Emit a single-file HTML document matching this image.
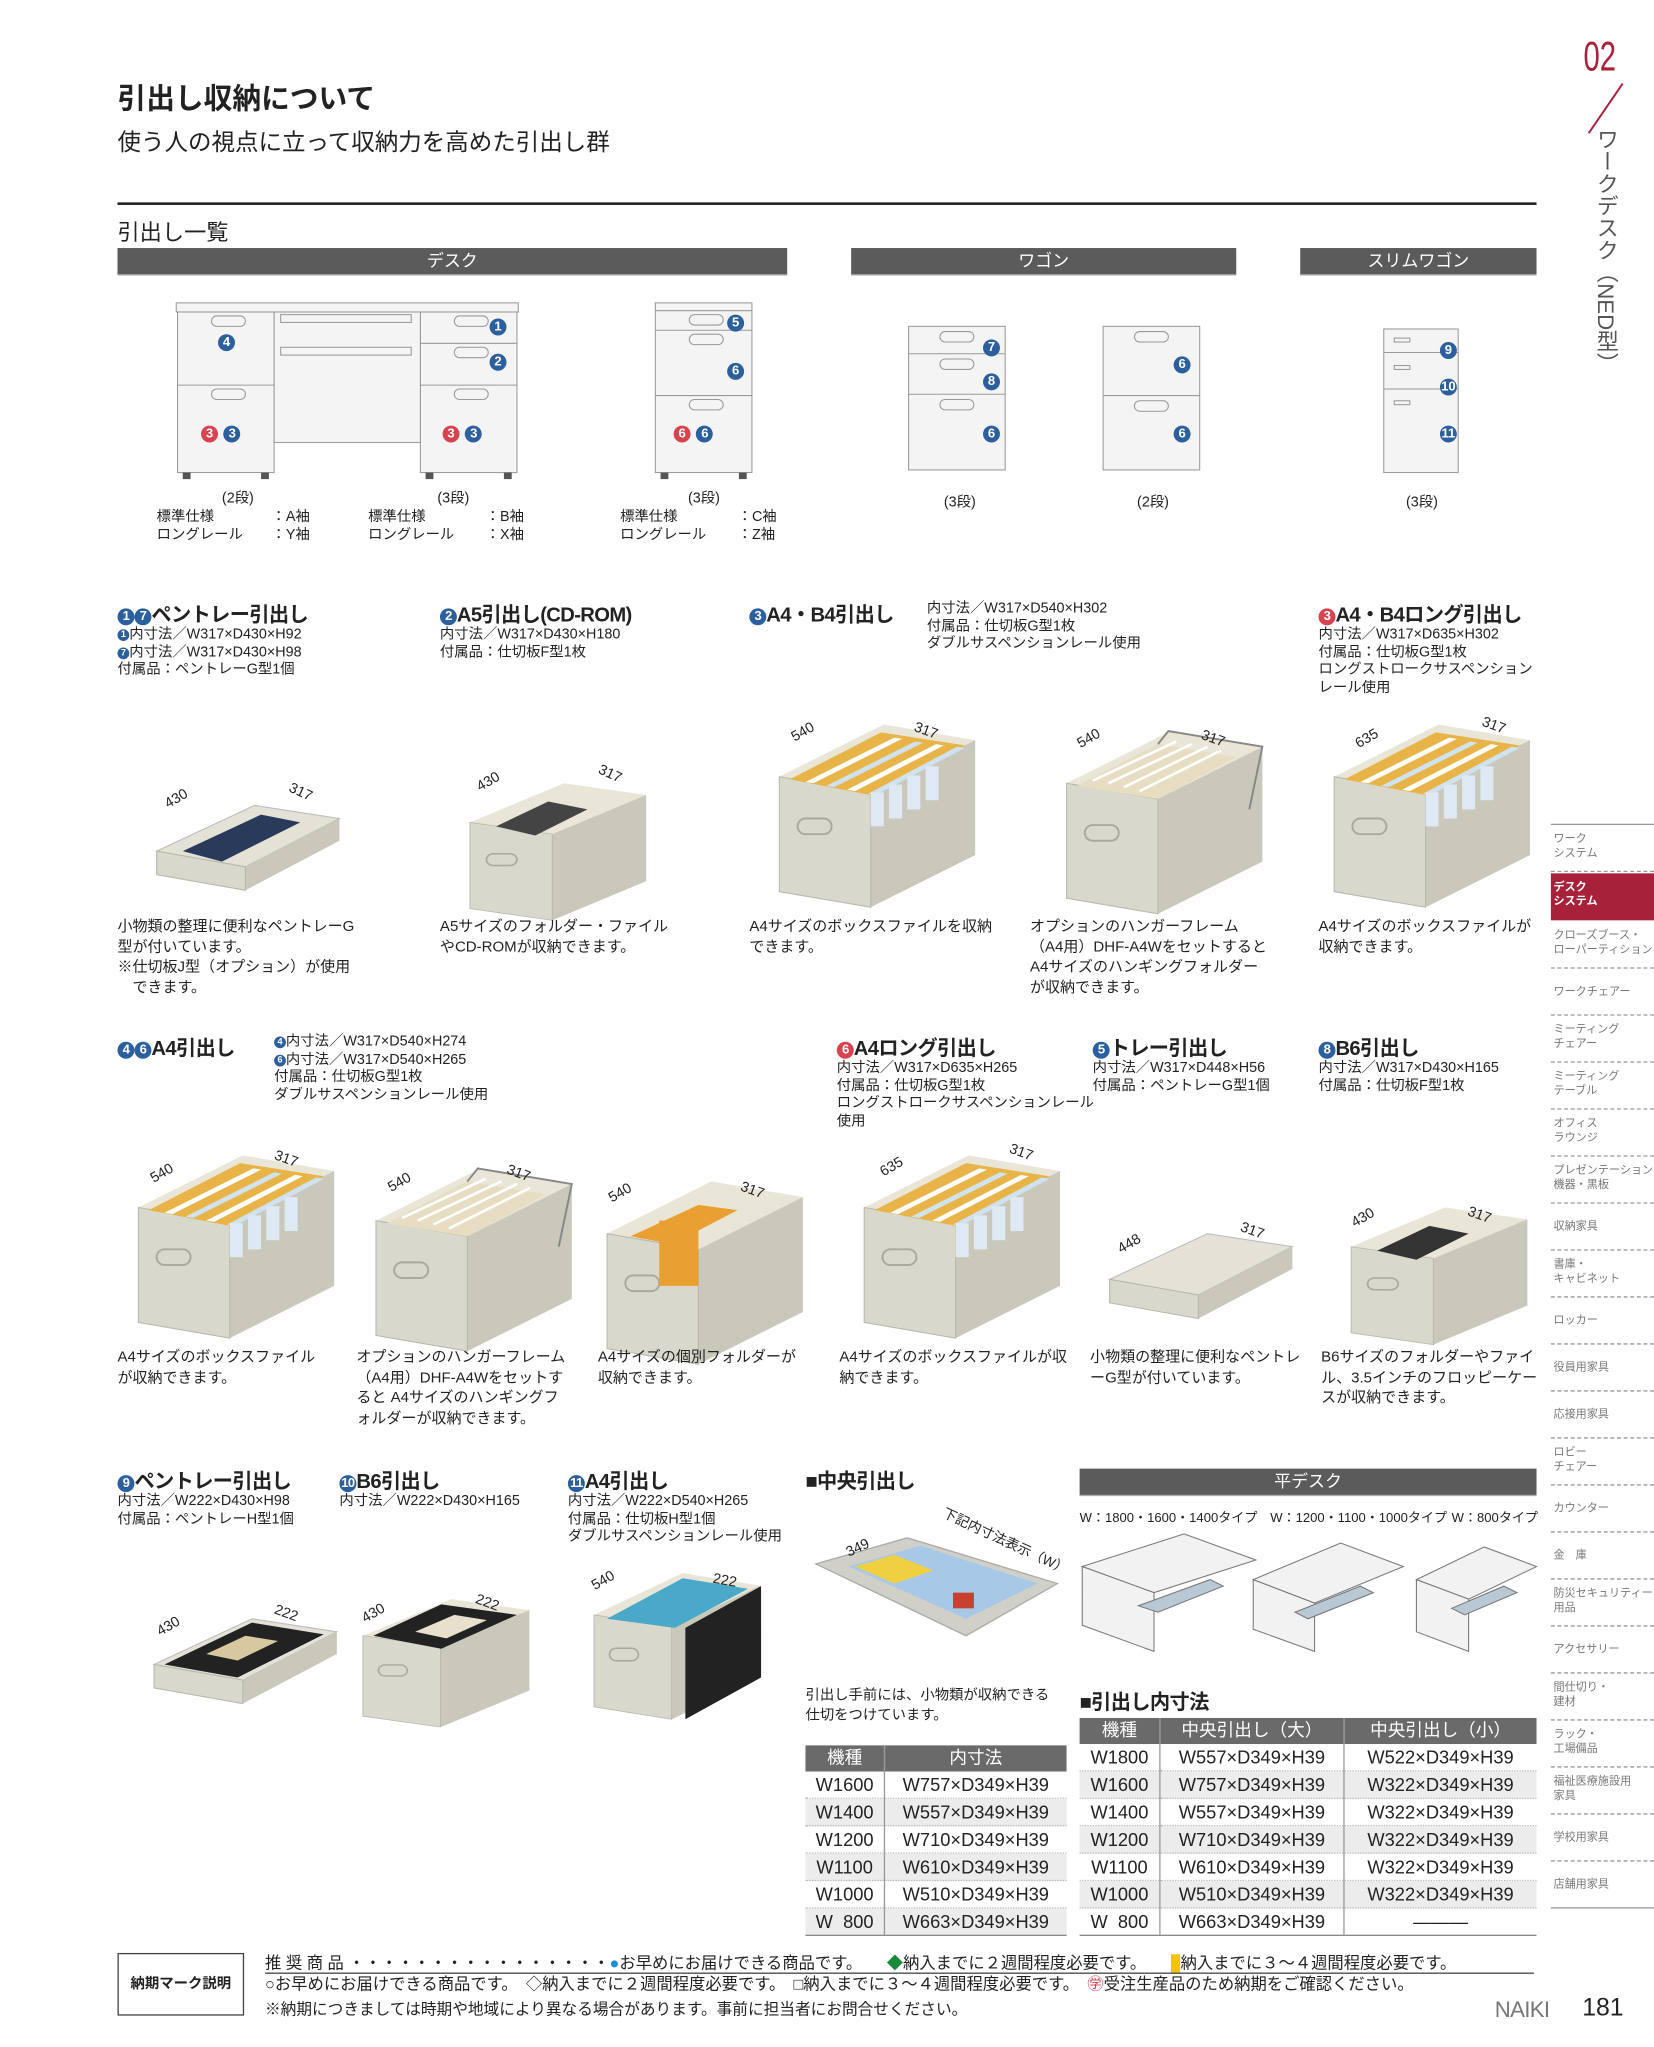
<!DOCTYPE html>
<html><head><meta charset="utf-8">
<style>
html,body{margin:0;padding:0;background:#fff}
body{width:1654px;height:2047px;overflow:hidden;position:relative}
#w{position:absolute;left:0;top:0;width:1267px;height:1568px;transform:scale(1.30545);transform-origin:0 0;font-family:"Liberation Sans","Noto Sans CJK JP",sans-serif;color:#222}
.a{position:absolute;white-space:nowrap}
.bar{position:absolute;height:20px;background:#5b5b5b;color:#fff;font-size:13px;text-align:center;line-height:20px;border-bottom:1px solid #aaa}
.h{position:absolute;font-size:15.5px;font-weight:bold;white-space:nowrap;letter-spacing:-0.5px}
.d{position:absolute;font-size:11px;line-height:13.5px;white-space:nowrap}
.t{position:absolute;font-size:11.5px;line-height:15.5px}
.n{display:inline-block;width:13px;height:13px;border-radius:50%;background:#2b5f9e;color:#fff;font-size:10px;line-height:13px;text-align:center;vertical-align:1px;font-weight:bold}
.r{background:#d8434f}
.sm{width:9px;height:9px;font-size:7px;line-height:9px}
.side{position:absolute;left:1188px;width:79px;font-size:8.5px;color:#777;line-height:10.5px;border-bottom:1px dashed #999;box-sizing:border-box;padding:5px 0 0 2px;white-space:nowrap;overflow:hidden}
table{border-collapse:collapse;position:absolute;font-size:14px}
td,th{height:20px;padding:0;text-align:center;border-left:1px solid #999;line-height:20px}
td:first-child,th:first-child{border-left:none}
th{background:#6a6a6a;color:#fff;font-weight:normal;font-size:13.5px}
tr td{border-bottom:1px dotted #bbb}
svg{position:absolute;overflow:visible}
</style></head><body><div id="w">

<svg width="0" height="0" style="position:absolute">
<defs>
<g id="deep">
<polygon points="0,40 80,0 150,12 70,52" fill="#e9e6d8"/>
<polygon points="70,52 150,12 150,100 70,140" fill="#c9c8bb"/>
<polygon points="0,40 70,52 70,140 0,128" fill="#d9d8cc" stroke="#b8b7aa" stroke-width="0.8"/>
<rect x="14" y="72" width="26" height="12" rx="6" fill="none" stroke="#aaa9a0" stroke-width="1.5"/>
</g>
<g id="files">
<polygon points="8,42 78,6 142,16 70,54" fill="#e8b448"/>
<polygon points="20,44 88,10 94,11 26,45" fill="#fff"/>
<polygon points="36,47 104,13 110,14 42,48" fill="#cfe2f0"/>
<polygon points="52,50 120,15 126,16 58,51" fill="#fff"/>
<polygon points="68,53 136,17 142,18 74,54" fill="#cfe2f0"/>
<rect x="70" y="52" width="10" height="26" fill="#dfe9f3"/>
<rect x="84" y="46" width="10" height="26" fill="#dfe9f3"/>
<rect x="98" y="39" width="10" height="26" fill="#dfe9f3"/>
<rect x="112" y="32" width="10" height="26" fill="#dfe9f3"/>
</g>
<g id="hang">
<polygon points="8,42 70,10 130,20 70,52" fill="#e6ddc2"/>
<path d="M20,38 L84,8 M32,40 L96,10 M44,43 L108,12 M56,46 L118,15" stroke="#fff" stroke-width="2"/>
<path d="M70,10 L78,0 L150,12 L140,60" stroke="#888" stroke-width="1.5" fill="none"/>
</g>
<g id="tray">
<polygon points="0,40 75,5 140,15 68,52" fill="#e4e2d6" stroke="#bbb" stroke-width="0.8"/>
<polygon points="68,52 140,15 140,32 68,70" fill="#c9c8bb"/>
<polygon points="0,40 68,52 68,70 0,58" fill="#d9d8cc" stroke="#b8b7aa" stroke-width="0.8"/>
</g>
</defs></svg>

<!-- header -->
<div class="a" style="left:90px;top:58px;font-size:22px;font-weight:bold">引出し収納について</div>
<div class="a" style="left:90px;top:95px;font-size:18px">使う人の視点に立って収納力を高めた引出し群</div>
<div class="a" style="left:90px;top:155px;width:1087px;height:2px;background:#222"></div>
<div class="a" style="left:90px;top:164px;font-size:17px">引出し一覧</div>
<div class="bar" style="left:90px;top:190px;width:513px">デスク</div>
<div class="bar" style="left:652px;top:190px;width:295px">ワゴン</div>
<div class="bar" style="left:996px;top:190px;width:181px">スリムワゴン</div>

<!-- right sidebar -->
<div class="a" style="left:1213px;top:25px;font-size:32px;color:#a8213a;transform:scaleX(0.7);transform-origin:0 0">02</div>
<svg style="left:1215px;top:64px" width="30" height="40"><line x1="28" y1="0" x2="2" y2="38" stroke="#a8213a" stroke-width="1.5"/></svg>
<div class="a" style="left:1218px;top:98px;width:20px;font-size:17px;line-height:17px;color:#555;white-space:normal;writing-mode:vertical-rl">ワークデスク（NED型）</div>
<div class="a" style="left:1188px;top:631px;width:79px;height:1px;background:#999"></div>
<div class="side" style="top:632px;height:36px">ワーク<br>システム</div>
<div class="side" style="top:669px;height:36px;background:#a8213a;color:#fff;font-weight:bold;border:none">デスク<br>システム</div>
<div class="side" style="top:706px;height:36px">クローズブース・<br>ローパーティション</div>
<div class="side" style="top:742px;height:36px;padding-top:12px">ワークチェアー</div>
<div class="side" style="top:778px;height:36px">ミーティング<br>チェアー</div>
<div class="side" style="top:814px;height:36px">ミーティング<br>テーブル</div>
<div class="side" style="top:850px;height:36px">オフィス<br>ラウンジ</div>
<div class="side" style="top:886px;height:36px">プレゼンテーション<br>機器・黒板</div>
<div class="side" style="top:922px;height:36px;padding-top:12px">収納家具</div>
<div class="side" style="top:958px;height:36px">書庫・<br>キャビネット</div>
<div class="side" style="top:994px;height:36px;padding-top:12px">ロッカー</div>
<div class="side" style="top:1030px;height:36px;padding-top:12px">役員用家具</div>
<div class="side" style="top:1066px;height:36px;padding-top:12px">応接用家具</div>
<div class="side" style="top:1102px;height:36px">ロビー<br>チェアー</div>
<div class="side" style="top:1138px;height:36px;padding-top:12px">カウンター</div>
<div class="side" style="top:1174px;height:36px;padding-top:12px">金　庫</div>
<div class="side" style="top:1210px;height:36px">防災セキュリティー<br>用品</div>
<div class="side" style="top:1246px;height:36px;padding-top:12px">アクセサリー</div>
<div class="side" style="top:1282px;height:36px">間仕切り・<br>建材</div>
<div class="side" style="top:1318px;height:36px">ラック・<br>工場備品</div>
<div class="side" style="top:1354px;height:36px">福祉医療施設用<br>家具</div>
<div class="side" style="top:1390px;height:36px;padding-top:12px">学校用家具</div>
<div class="side" style="top:1426px;height:36px;padding-top:12px;border-bottom:1px solid #999">店舗用家具</div>

<!-- furniture overview -->
<svg style="left:130px;top:228px" width="460" height="140">
<g fill="#f4f4f4" stroke="#999" stroke-width="0.8">
<rect x="5" y="4" width="262" height="7"/>
<rect x="6" y="11" width="74" height="123"/><line x1="6" y1="67" x2="80" y2="67"/>
<rect x="192" y="11" width="74" height="123"/><line x1="192" y1="35" x2="266" y2="35"/><line x1="192" y1="67" x2="266" y2="67"/>
<rect x="80" y="11" width="112" height="100"/><rect x="85" y="13" width="100" height="6"/><rect x="85" y="38" width="100" height="6"/>
<rect x="372" y="4" width="74" height="130"/><line x1="372" y1="10" x2="446" y2="10"/><line x1="372" y1="25" x2="446" y2="25"/><line x1="372" y1="75" x2="446" y2="75"/>
</g>
<g fill="none" stroke="#999" stroke-width="0.8"><rect x="32" y="14" width="26" height="8" rx="4"/><rect x="32" y="70" width="26" height="8" rx="4"/><rect x="218" y="14" width="26" height="8" rx="4"/><rect x="218" y="38" width="26" height="8" rx="4"/><rect x="218" y="70" width="26" height="8" rx="4"/><rect x="398" y="13" width="26" height="8" rx="4"/><rect x="398" y="28" width="26" height="8" rx="4"/><rect x="398" y="78" width="26" height="8" rx="4"/></g>
<g fill="#555"><rect x="10" y="134" width="6" height="5"/><rect x="70" y="134" width="6" height="5"/><rect x="196" y="134" width="6" height="5"/><rect x="256" y="134" width="6" height="5"/><rect x="376" y="134" width="6" height="5"/><rect x="436" y="134" width="6" height="5"/></g>
</svg>
<svg style="left:690px;top:248px" width="240" height="120">
<g fill="#f4f4f4" stroke="#999" stroke-width="0.8">
<rect x="6" y="2" width="74" height="110"/><line x1="6" y1="23" x2="80" y2="23"/><line x1="6" y1="54" x2="80" y2="54"/>
<rect x="155" y="2" width="74" height="110"/><line x1="155" y1="55" x2="229" y2="55"/>
</g>
<g fill="none" stroke="#999" stroke-width="0.8"><rect x="30" y="6" width="26" height="8" rx="4"/><rect x="30" y="27" width="26" height="8" rx="4"/><rect x="30" y="58" width="26" height="8" rx="4"/><rect x="179" y="6" width="26" height="8" rx="4"/><rect x="179" y="59" width="26" height="8" rx="4"/></g></svg>
<svg style="left:1055px;top:250px" width="70" height="118">
<g fill="#f4f4f4" stroke="#999" stroke-width="0.8"><rect x="5" y="2" width="57" height="110"/><line x1="5" y1="20" x2="62" y2="20"/><line x1="5" y1="48" x2="62" y2="48"/>
<rect x="13" y="9" width="12" height="3"/><rect x="13" y="30" width="12" height="3"/><rect x="13" y="57" width="12" height="3"/></g></svg>
<div class="a" style="left:375px;top:241px"><span class="n">1</span></div>
<div class="a" style="left:167px;top:253px"><span class="n">4</span></div>
<div class="a" style="left:375px;top:268px"><span class="n">2</span></div>
<div class="a" style="left:154px;top:323px"><span class="n r">3</span> <span class="n">3</span></div>
<div class="a" style="left:339px;top:323px"><span class="n r">3</span> <span class="n">3</span></div>
<div class="a" style="left:557px;top:238px"><span class="n">5</span></div>
<div class="a" style="left:557px;top:275px"><span class="n">6</span></div>
<div class="a" style="left:516px;top:323px"><span class="n r">6</span> <span class="n">6</span></div>
<div class="a" style="left:753px;top:257px"><span class="n">7</span></div>
<div class="a" style="left:753px;top:283px"><span class="n">8</span></div>
<div class="a" style="left:753px;top:323px"><span class="n">6</span></div>
<div class="a" style="left:899px;top:270px"><span class="n">6</span></div>
<div class="a" style="left:899px;top:323px"><span class="n">6</span></div>
<div class="a" style="left:1103px;top:259px"><span class="n">9</span></div>
<div class="a" style="left:1103px;top:287px"><span class="n">10</span></div>
<div class="a" style="left:1103px;top:323px"><span class="n">11</span></div>
<div class="d" style="left:170px;top:376px">(2段)</div>
<div class="d" style="left:120px;top:390px">標準仕様<br>ロングレール</div><div class="d" style="left:208px;top:390px">：A袖<br>：Y袖</div>
<div class="d" style="left:335px;top:376px">(3段)</div>
<div class="d" style="left:282px;top:390px">標準仕様<br>ロングレール</div><div class="d" style="left:372px;top:390px">：B袖<br>：X袖</div>
<div class="d" style="left:527px;top:376px">(3段)</div>
<div class="d" style="left:475px;top:390px">標準仕様<br>ロングレール</div><div class="d" style="left:565px;top:390px">：C袖<br>：Z袖</div>
<div class="d" style="left:723px;top:379px">(3段)</div>
<div class="d" style="left:871px;top:379px">(2段)</div>
<div class="d" style="left:1077px;top:379px">(3段)</div>

<!-- row 1 -->
<div class="h" style="left:90px;top:459px"><span class="n">1</span><span class="n">7</span>ペントレー引出し</div>
<div class="d" style="left:90px;top:480px"><span class="n sm">1</span>内寸法／W317×D430×H92<br><span class="n sm">7</span>内寸法／W317×D430×H98<br>付属品：ペントレーG型1個</div>
<div class="h" style="left:337px;top:459px"><span class="n">2</span>A5引出し(CD-ROM)</div>
<div class="d" style="left:337px;top:480px">内寸法／W317×D430×H180<br>付属品：仕切板F型1枚</div>
<div class="h" style="left:574px;top:459px"><span class="n">3</span>A4・B4引出し</div>
<div class="d" style="left:710px;top:460px">内寸法／W317×D540×H302<br>付属品：仕切板G型1枚<br>ダブルサスペンションレール使用</div>
<div class="h" style="left:1010px;top:459px"><span class="n r">3</span>A4・B4ロング引出し</div>
<div class="d" style="left:1010px;top:480px">内寸法／W317×D635×H302<br>付属品：仕切板G型1枚<br>ロングストロークサスペンション<br>レール使用</div>

<svg style="left:120px;top:612px" width="150" height="80"><use href="#tray"/><polygon points="20,40 80,12 110,18 50,48" fill="#2a3a5a"/></svg>
<svg style="left:360px;top:600px" width="150" height="100"><g transform="scale(0.9,0.75)"><use href="#deep"/></g><polygon points="20,33 60,14 90,20 50,40" fill="#444"/></svg>
<svg style="left:597px;top:555px" width="150" height="145"><use href="#deep"/><use href="#files"/></svg>
<svg style="left:817px;top:560px" width="150" height="145"><use href="#deep"/><use href="#hang"/></svg>
<svg style="left:1022px;top:555px" width="150" height="145"><use href="#deep"/><use href="#files"/></svg>
<div class="a" style="left:126px;top:606px;font-size:11px;transform:rotate(-30deg)">430</div>
<div class="a" style="left:221px;top:601px;font-size:11px;transform:rotate(25deg)">317</div>
<div class="a" style="left:365px;top:593px;font-size:11px;transform:rotate(-30deg)">430</div>
<div class="a" style="left:458px;top:587px;font-size:11px;transform:rotate(25deg)">317</div>
<div class="a" style="left:606px;top:555px;font-size:11px;transform:rotate(-30deg)">540</div>
<div class="a" style="left:700px;top:554px;font-size:11px;transform:rotate(20deg)">317</div>
<div class="a" style="left:825px;top:560px;font-size:11px;transform:rotate(-30deg)">540</div>
<div class="a" style="left:920px;top:560px;font-size:11px;transform:rotate(20deg)">317</div>
<div class="a" style="left:1038px;top:560px;font-size:11px;transform:rotate(-30deg)">635</div>
<div class="a" style="left:1135px;top:550px;font-size:11px;transform:rotate(20deg)">317</div>
<div class="t" style="left:90px;top:703px;width:185px">小物類の整理に便利なペントレーG型が付いています。<br>※仕切板J型（オプション）が使用<br>　できます。</div>
<div class="t" style="left:337px;top:703px;width:175px">A5サイズのフォルダー・ファイルやCD-ROMが収納できます。</div>
<div class="t" style="left:574px;top:703px;width:190px">A4サイズのボックスファイルを収納できます。</div>
<div class="t" style="left:789px;top:703px;width:185px">オプションのハンガーフレーム（A4用）DHF-A4Wをセットすると A4サイズのハンギングフォルダーが収納できます。</div>
<div class="t" style="left:1010px;top:703px;width:170px">A4サイズのボックスファイルが収納できます。</div>

<!-- row 2 -->
<div class="h" style="left:90px;top:791px"><span class="n">4</span><span class="n">6</span>A4引出し</div>
<div class="d" style="left:210px;top:792px"><span class="n sm">4</span>内寸法／W317×D540×H274<br><span class="n sm">6</span>内寸法／W317×D540×H265<br>付属品：仕切板G型1枚<br>ダブルサスペンションレール使用</div>
<div class="h" style="left:641px;top:791px"><span class="n r">6</span>A4ロング引出し</div>
<div class="d" style="left:641px;top:812px">内寸法／W317×D635×H265<br>付属品：仕切板G型1枚<br>ロングストロークサスペンションレール<br>使用</div>
<div class="h" style="left:837px;top:791px"><span class="n">5</span>トレー引出し</div>
<div class="d" style="left:837px;top:812px">内寸法／W317×D448×H56<br>付属品：ペントレーG型1個</div>
<div class="h" style="left:1010px;top:791px"><span class="n">8</span>B6引出し</div>
<div class="d" style="left:1010px;top:812px">内寸法／W317×D430×H165<br>付属品：仕切板F型1枚</div>

<svg style="left:106px;top:885px" width="150" height="145"><use href="#deep"/><use href="#files"/></svg>
<svg style="left:288px;top:895px" width="150" height="145"><use href="#deep"/><use href="#hang"/></svg>
<svg style="left:465px;top:905px" width="150" height="140"><use href="#deep"/><polygon points="18,42 70,18 100,22 50,48" fill="#e9a030"/><rect x="40" y="30" width="30" height="50" fill="#e9a030"/></svg>
<svg style="left:662px;top:885px" width="150" height="145"><use href="#deep"/><use href="#files"/></svg>
<svg style="left:850px;top:940px" width="150" height="80"><use href="#tray"/></svg>
<svg style="left:1035px;top:925px" width="150" height="110"><g transform="scale(0.9,0.75)"><use href="#deep"/></g><polygon points="20,33 60,14 90,20 50,40" fill="#333"/></svg>
<div class="a" style="left:115px;top:893px;font-size:11px;transform:rotate(-30deg)">540</div>
<div class="a" style="left:210px;top:882px;font-size:11px;transform:rotate(20deg)">317</div>
<div class="a" style="left:297px;top:900px;font-size:11px;transform:rotate(-30deg)">540</div>
<div class="a" style="left:388px;top:893px;font-size:11px;transform:rotate(20deg)">317</div>
<div class="a" style="left:466px;top:908px;font-size:11px;transform:rotate(-30deg)">540</div>
<div class="a" style="left:567px;top:906px;font-size:11px;transform:rotate(20deg)">317</div>
<div class="a" style="left:674px;top:888px;font-size:11px;transform:rotate(-30deg)">635</div>
<div class="a" style="left:773px;top:877px;font-size:11px;transform:rotate(20deg)">317</div>
<div class="a" style="left:856px;top:947px;font-size:11px;transform:rotate(-30deg)">448</div>
<div class="a" style="left:950px;top:937px;font-size:11px;transform:rotate(20deg)">317</div>
<div class="a" style="left:1035px;top:927px;font-size:11px;transform:rotate(-30deg)">430</div>
<div class="a" style="left:1124px;top:925px;font-size:11px;transform:rotate(20deg)">317</div>
<div class="t" style="left:90px;top:1033px;width:160px">A4サイズのボックスファイルが収納できます。</div>
<div class="t" style="left:273px;top:1033px;width:165px">オプションのハンガーフレーム（A4用）DHF-A4Wをセットすると A4サイズのハンギングフォルダーが収納できます。</div>
<div class="t" style="left:458px;top:1033px;width:155px">A4サイズの個別フォルダーが収納できます。</div>
<div class="t" style="left:643px;top:1033px;width:180px">A4サイズのボックスファイルが収納できます。</div>
<div class="t" style="left:835px;top:1033px;width:165px">小物類の整理に便利なペントレーG型が付いています。</div>
<div class="t" style="left:1012px;top:1033px;width:170px">B6サイズのフォルダーやファイル、3.5インチのフロッピーケースが収納できます。</div>

<!-- row 3 -->
<div class="h" style="left:90px;top:1123px"><span class="n">9</span>ペントレー引出し</div>
<div class="d" style="left:90px;top:1144px">内寸法／W222×D430×H98<br>付属品：ペントレーH型1個</div>
<div class="h" style="left:260px;top:1123px"><span class="n">10</span>B6引出し</div>
<div class="d" style="left:260px;top:1144px">内寸法／W222×D430×H165</div>
<div class="h" style="left:435px;top:1123px"><span class="n">11</span>A4引出し</div>
<div class="d" style="left:435px;top:1144px">内寸法／W222×D540×H265<br>付属品：仕切板H型1個<br>ダブルサスペンションレール使用</div>
<svg style="left:118px;top:1235px" width="140" height="80"><use href="#tray"/><polygon points="8,40 75,8 130,17 64,50" fill="#222"/><polygon points="40,32 70,18 95,22 64,37" fill="#d8c8a0"/></svg>
<svg style="left:278px;top:1225px" width="140" height="90"><g transform="scale(0.85,0.7)"><use href="#deep"/></g><polygon points="8,28 60,4 118,12 60,38" fill="#222"/><polygon points="40,25 70,12 95,16 64,30" fill="#e8e0cc"/></svg>
<svg style="left:455px;top:1205px" width="130" height="115"><g transform="scale(0.85,0.8)"><use href="#deep"/></g><polygon points="10,35 68,4 118,12 62,42" fill="#4aa8c8"/><polygon points="70,42 128,10 128,80 70,112" fill="#222"/></svg>
<div class="a" style="left:120px;top:1240px;font-size:11px;transform:rotate(-30deg)">430</div>
<div class="a" style="left:210px;top:1230px;font-size:11px;transform:rotate(20deg)">222</div>
<div class="a" style="left:277px;top:1230px;font-size:11px;transform:rotate(-30deg)">430</div>
<div class="a" style="left:364px;top:1222px;font-size:11px;transform:rotate(20deg)">222</div>
<div class="a" style="left:453px;top:1205px;font-size:11px;transform:rotate(-30deg)">540</div>
<div class="a" style="left:546px;top:1205px;font-size:11px;transform:rotate(10deg)">222</div>

<!-- center drawer -->
<div class="h" style="left:617px;top:1123px">■中央引出し</div>
<svg style="left:625px;top:1168px" width="190" height="100"><polygon points="0,30 70,10 185,45 115,85" fill="#d0d0c8" stroke="#aaa"/><polygon points="25,32 80,16 170,45 115,72" fill="#a8c8e8"/><polygon points="30,32 60,23 90,35 60,45" fill="#f0d040"/><rect x="105" y="52" width="16" height="12" fill="#c84030"/></svg>
<div class="a" style="left:648px;top:1180px;font-size:11px;transform:rotate(-25deg)">349</div>
<div class="a" style="left:718px;top:1173px;font-size:10.5px;transform:rotate(25deg)">下記内寸法表示（W）</div>
<div class="t" style="left:617px;top:1292px;width:190px;font-size:11px;line-height:14.5px">引出し手前には、小物類が収納できる仕切をつけています。</div>

<div class="bar" style="left:827px;top:1125px;width:350px">平デスク</div>
<div class="d" style="left:827px;top:1157px;font-size:10px">W：1800・1600・1400タイプ</div>
<div class="d" style="left:973px;top:1157px;font-size:10px">W：1200・1100・1000タイプ</div>
<div class="d" style="left:1112px;top:1157px;font-size:10px">W：800タイプ</div>
<svg style="left:827px;top:1170px" width="350" height="105">
<g fill="#f2f2f2" stroke="#777" stroke-width="0.8">
<polygon points="2,30 80,5 135,25 57,50"/><polygon points="2,30 57,50 57,95 2,75"/><polygon points="45,60 100,40 110,45 60,65" fill="#b8c8d4"/>
<polygon points="133,40 200,12 248,30 180,58"/><polygon points="133,40 180,58 180,95 133,78"/><polygon points="165,65 215,45 225,50 175,70" fill="#b8c8d4"/>
<polygon points="258,40 310,15 350,30 298,55"/><polygon points="258,40 298,55 298,95 258,80"/><polygon points="285,62 325,45 335,50 295,67" fill="#b8c8d4"/>
</g></svg>
<div class="h" style="left:827px;top:1292px">■引出し内寸法</div>

<table style="left:617px;top:1337px;width:200px">
<tr><th style="width:60px">機種</th><th>内寸法</th></tr>
<tr><td>W1600</td><td>W757×D349×H39</td></tr>
<tr><td style="background:#ececec">W1400</td><td style="background:#ececec">W557×D349×H39</td></tr>
<tr><td style="background:#fff">W1200</td><td style="background:#fff">W710×D349×H39</td></tr>
<tr><td style="background:#ececec">W1100</td><td style="background:#ececec">W610×D349×H39</td></tr>
<tr><td style="background:#fff">W1000</td><td style="background:#fff">W510×D349×H39</td></tr>
<tr><td style="background:#ececec;border-bottom:1px solid #888">W &nbsp;800</td><td style="background:#ececec;border-bottom:1px solid #888">W663×D349×H39</td></tr>
</table>
<table style="left:827px;top:1316px;width:350px">
<tr><th style="width:61px">機種</th><th style="width:140px">中央引出し（大）</th><th>中央引出し（小）</th></tr>
<tr><td style="background:#fff">W1800</td><td style="background:#fff">W557×D349×H39</td><td style="background:#fff">W522×D349×H39</td></tr>
<tr><td style="background:#ececec">W1600</td><td style="background:#ececec">W757×D349×H39</td><td style="background:#ececec">W322×D349×H39</td></tr>
<tr><td style="background:#fff">W1400</td><td style="background:#fff">W557×D349×H39</td><td style="background:#fff">W322×D349×H39</td></tr>
<tr><td style="background:#ececec">W1200</td><td style="background:#ececec">W710×D349×H39</td><td style="background:#ececec">W322×D349×H39</td></tr>
<tr><td style="background:#fff">W1100</td><td style="background:#fff">W610×D349×H39</td><td style="background:#fff">W322×D349×H39</td></tr>
<tr><td style="background:#ececec">W1000</td><td style="background:#ececec">W510×D349×H39</td><td style="background:#ececec">W322×D349×H39</td></tr>
<tr><td style="background:#fff;border-bottom:1px solid #888">W &nbsp;800</td><td style="background:#fff;border-bottom:1px solid #888">W663×D349×H39</td><td style="background:#fff;border-bottom:1px solid #888">―――</td></tr>
</table>

<!-- footer -->
<div class="a" style="left:90px;top:1496px;width:97px;height:48px;border:1px solid #444;box-sizing:border-box;font-size:11px;font-weight:bold;text-align:center;line-height:46px">納期マーク説明</div>
<div class="a" style="left:203px;top:1496px;font-size:12.5px;line-height:16px">推 奨 商 品 ・・・・・・・・・・・・・・・・<span style="color:#1a8fd8">●</span>お早めにお届けできる商品です。　　<span style="color:#1a8a3a">◆</span>納入までに２週間程度必要です。　　<span style="background:#f5c400;color:#f5c400">■</span>納入までに３～４週間程度必要です。</div>
<div class="a" style="left:203px;top:1511px;width:972px;height:1px;background:#444"></div>
<div class="a" style="left:203px;top:1512px;font-size:12.5px;line-height:16px">○お早めにお届けできる商品です。　◇納入までに２週間程度必要です。　□納入までに３～４週間程度必要です。　<span style="color:#d8434f">㊫</span>受注生産品のため納期をご確認ください。</div>
<div class="a" style="left:203px;top:1530px;font-size:12px">※納期につきましては時期や地域により異なる場合があります。事前に担当者にお問合せください。</div>
<div class="a" style="left:1145px;top:1530px;font-size:17px;color:#777;letter-spacing:-0.5px">NAIKI</div>
<div class="a" style="left:1212px;top:1528px;font-size:19px;color:#222">181</div>

</div></body></html>
